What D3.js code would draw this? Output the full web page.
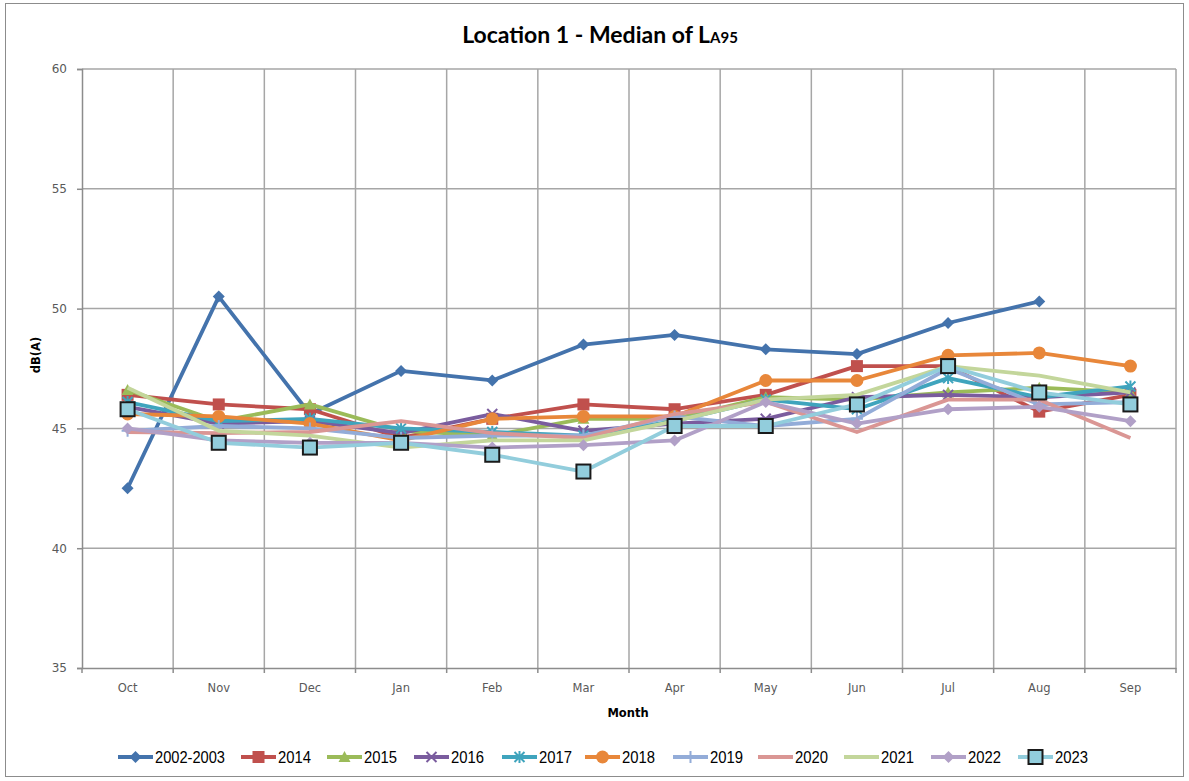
<!DOCTYPE html>
<html>
<head>
<meta charset="utf-8">
<script src="https://cdn.jsdelivr.net/npm/d3@7"></script>
<style>
  html, body { margin: 0; padding: 0; background: #fff; }
  svg { display: block; }
</style>
</head>
<body>
<svg id="chart" width="1189" height="781"></svg>
<script>
// ---------------- DATA ----------------
const months = ["Oct","Nov","Dec","Jan","Feb","Mar","Apr","May","Jun","Jul","Aug","Sep"];
const yTicks = [35, 40, 45, 50, 55, 60];

const s2002 = [42.5, 50.5, 45.6, 47.4, 47.0, 48.5, 48.9, 48.3, 48.1, 49.4, 50.3, null];
const s2014 = [46.4, 46.0, 45.8, 44.6, 45.4, 46.0, 45.8, 46.4, 47.6, 47.6, 45.7, 46.4];
const s2015 = [46.6, 45.3, 46.0, 44.9, 44.7, 45.4, 45.4, 46.3, 46.2, 46.5, 46.7, 46.5];
const s2016 = [45.9, 45.2, 45.3, 44.8, 45.6, 44.9, 45.2, 45.4, 46.3, 46.4, 46.3, 46.5];
const s2017 = [46.1, 45.3, 45.4, 45.0, 44.85, 44.7, 45.3, 46.2, 45.8, 47.1, 46.3, 46.75];
const s2018 = [45.6, 45.5, 45.2, 44.5, 45.4, 45.5, 45.5, 47.0, 47.0, 48.05, 48.15, 47.6];
const s2019 = [44.9, 45.1, 45.0, 44.6, 44.7, 44.7, 45.5, 45.1, 45.4, 47.5, 46.0, 46.1];
const s2020 = [44.85, 44.8, 44.85, 45.3, 44.8, 44.6, 45.6, 46.1, 44.85, 46.2, 46.2, 44.6];
const s2021 = [46.7, 44.9, 44.7, 44.2, 44.5, 44.5, 45.3, 46.2, 46.4, 47.6, 47.2, 46.5];
const s2022 = [45.0, 44.5, 44.4, 44.4, 44.2, 44.3, 44.5, 46.1, 45.2, 45.8, 45.9, 45.3];
const s2023 = [45.8, 44.4, 44.2, 44.4, 43.9, 43.2, 45.1, 45.1, 46.0, 47.6, 46.5, 46.0];

const seriesNames = ["2002-2003","2014","2015","2016","2017","2018","2019","2020","2021","2022","2023"];
const seriesValues = [s2002, s2014, s2015, s2016, s2017, s2018, s2019, s2020, s2021, s2022, s2023];

// ---------------- STYLE ----------------
const styles = {
  "2002-2003": {color: "#4473AC", marker: "diamond"},
  "2014": {color: "#C0504D", marker: "square"},
  "2015": {color: "#9BBB59", marker: "triangle"},
  "2016": {color: "#7A5C9E", marker: "times"},
  "2017": {color: "#3FA4BD", marker: "asterisk"},
  "2018": {color: "#E8873A", marker: "circle"},
  "2019": {color: "#93ACD8", marker: "plus"},
  "2020": {color: "#DA9694", marker: "none"},
  "2021": {color: "#C3D69B", marker: "none"},
  "2022": {color: "#B1A0C7", marker: "diamond"},
  "2023": {color: "#92CDDC", marker: "bigsquare"}
};

const series = seriesNames.map((n, i) => ({name: n, values: seriesValues[i]}));

const svg = d3.select("#chart");
const plot = {left: 82, right: 1176, top: 69, bottom: 668};

// outer frame
svg.append("rect").attr("x", 5.5).attr("y", 3.5).attr("width", 1178).attr("height", 773)
  .attr("fill", "#fff").attr("stroke", "#8c8c8c").attr("stroke-width", 1);

const x = d3.scaleBand().domain(months).range([plot.left, plot.right]).padding(0);
const y = d3.scaleLinear().domain([35, 60]).range([plot.bottom, plot.top]);
const cx = m => x(m) + x.bandwidth() / 2;

const grid = svg.append("g");
grid.selectAll("line.h").data(yTicks.slice(1)).join("line")
  .attr("x1", plot.left).attr("x2", plot.right)
  .attr("y1", d => y(d)).attr("y2", d => y(d))
  .attr("stroke", "#a6a6a6").attr("stroke-width", 1.5);
const bounds = months.map(m => x(m) + x.bandwidth());
grid.selectAll("line.v").data(bounds).join("line")
  .attr("x1", d => d).attr("x2", d => d)
  .attr("y1", plot.top).attr("y2", plot.bottom)
  .attr("stroke", "#a6a6a6").attr("stroke-width", 1.5);

// Y axis
const yAxis = d3.axisLeft(y).tickValues(yTicks).tickSize(5).tickPadding(10).tickFormat(d3.format("d"));
const gy = svg.append("g").attr("transform", `translate(${plot.left},0)`).call(yAxis);
gy.select(".domain").attr("stroke", "#8c8c8c").attr("stroke-width", 1.5);
gy.selectAll(".tick line").attr("stroke", "#8c8c8c").attr("stroke-width", 1.5);
gy.selectAll("text").attr("font-family", "DejaVu Sans, Verdana, sans-serif").attr("font-size", 12).attr("fill", "#595959");

// X axis
const xAxis = d3.axisBottom(x).tickSize(0).tickPadding(16);
const gx = svg.append("g").attr("transform", `translate(0,${plot.bottom})`).call(xAxis);
gx.select(".domain").attr("stroke", "#8c8c8c").attr("stroke-width", 1.5);
gx.selectAll("text").attr("font-family", "DejaVu Sans, Verdana, sans-serif").attr("font-size", 11.5).attr("fill", "#595959");
svg.append("g").selectAll("line").data([plot.left].concat(bounds)).join("line")
  .attr("x1", d => d).attr("x2", d => d).attr("y1", plot.bottom).attr("y2", plot.bottom + 5)
  .attr("stroke", "#8c8c8c").attr("stroke-width", 1.5);

// Titles
const title = svg.append("text").attr("x", 600).attr("y", 43).attr("text-anchor", "middle")
  .attr("font-family", "Lato, 'Open Sans', sans-serif").attr("font-weight", "bold")
  .attr("font-size", 23).attr("fill", "#000");
title.append("tspan").text("Location 1 - Median of L");
title.append("tspan").attr("font-size", 15).text("A95");

svg.append("text").attr("x", 628).attr("y", 717).attr("text-anchor", "middle")
  .attr("font-family", "DejaVu Sans, Verdana, sans-serif").attr("font-weight", "bold")
  .attr("font-size", 11.5).attr("fill", "#000").text("Month");

svg.append("text").attr("transform", "translate(40,355) rotate(-90)").attr("text-anchor", "middle")
  .attr("font-family", "DejaVu Sans, Verdana, sans-serif").attr("font-weight", "bold")
  .attr("font-size", 11.5).attr("fill", "#000").text("dB(A)");

function drawMarker(g, type, color, px, py) {
  switch (type) {
    case "diamond":
      g.append("path").attr("d", `M${px},${py-6}L${px+6},${py}L${px},${py+6}L${px-6},${py}Z`).attr("fill", color);
      break;
    case "square":
      g.append("rect").attr("x", px-6).attr("y", py-6).attr("width", 12).attr("height", 12).attr("fill", color);
      break;
    case "triangle":
      g.append("path").attr("d", `M${px},${py-6}L${px+6},${py+5}L${px-6},${py+5}Z`).attr("fill", color);
      break;
    case "times":
      g.append("path").attr("d", `M${px-5},${py-5}L${px+5},${py+5}M${px-5},${py+5}L${px+5},${py-5}`)
        .attr("stroke", color).attr("stroke-width", 2);
      break;
    case "asterisk":
      g.append("path").attr("d", `M${px-5},${py-5}L${px+5},${py+5}M${px-5},${py+5}L${px+5},${py-5}M${px},${py-6}L${px},${py+6}`)
        .attr("stroke", color).attr("stroke-width", 2);
      break;
    case "circle":
      g.append("circle").attr("cx", px).attr("cy", py).attr("r", 6.5).attr("fill", color);
      break;
    case "plus":
      g.append("path").attr("d", `M${px-6},${py}L${px+6},${py}M${px},${py-6}L${px},${py+6}`)
        .attr("stroke", color).attr("stroke-width", 2);
      break;
    case "bigsquare":
      g.append("rect").attr("x", px-7).attr("y", py-7).attr("width", 14).attr("height", 14)
        .attr("fill", color).attr("stroke", "#1a1a1a").attr("stroke-width", 2);
      break;
  }
}

const line = d3.line().defined(d => d.v != null).x(d => cx(d.m)).y(d => y(d.v));

const plotG = svg.append("g");
series.forEach(s => {
  const st = styles[s.name];
  const pts = s.values.map((v, i) => ({m: months[i], v}));
  const g = plotG.append("g");
  g.append("path").datum(pts).attr("d", line).attr("fill", "none")
    .attr("stroke", st.color).attr("stroke-width", 3.8).attr("stroke-linejoin", "round");
  pts.filter(p => p.v != null).forEach(p => drawMarker(g, st.marker, st.color, cx(p.m), y(p.v)));
});

// Legend
const legendTextX = [155, 278, 364, 451, 539, 622, 710, 795, 881, 968, 1055];
const legendW = [70, 33, 33, 33, 33, 33, 33, 33, 33, 33, 33];
const ly = 757;
const lg = svg.append("g");
series.forEach((s, i) => {
  const st = styles[s.name];
  const tx = legendTextX[i];
  const g = lg.append("g");
  g.append("line").attr("x1", tx - 37).attr("x2", tx - 2).attr("y1", ly).attr("y2", ly)
    .attr("stroke", st.color).attr("stroke-width", 3.8);
  drawMarker(g, st.marker, st.color, tx - 19.5, ly);
  g.append("text").attr("x", tx).attr("y", ly + 6)
    .attr("font-family", "'Liberation Sans Narrow', 'Liberation Sans', sans-serif")
    .attr("font-size", 16).attr("fill", "#000")
    .attr("textLength", legendW[i]).attr("lengthAdjust", "spacingAndGlyphs")
    .text(s.name);
});
</script>
</body>
</html>
